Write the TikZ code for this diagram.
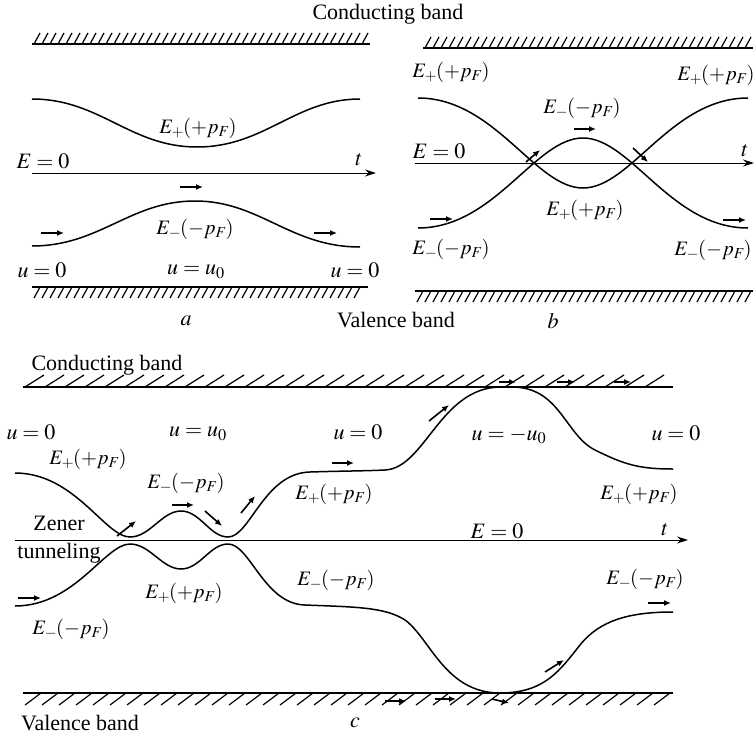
\documentclass[tikz,border=0pt]{standalone}
\usepackage{mathptmx}
\usepackage{fontspec}
\setmainfont{Liberation Serif}
\usetikzlibrary{arrows.meta}
\newcommand\EPlus{$E_{+}\mkern-1mu(+p_{F}\mkern-1mu)$}
\newcommand\EMin{$E_{-}\mkern-1mu(-p_{F}\mkern-1mu)$}
\tikzset{
  band/.style={line width=1.6pt},
  hat/.style={line width=1.2pt},
  curve/.style={line width=1.5pt},
  axis/.style={line width=1pt,-{Stealth[length=11pt,width=7pt]}},
  arr/.style={line width=1.6pt,-{Latex[length=7pt,width=6pt]}},
  lbl/.style={font=\fontsize{22}{26}\selectfont,inner sep=0pt,anchor=center},
  elbl/.style={font=\fontsize{20.5}{24}\selectfont,inner sep=0pt,anchor=center},
}
\begin{document}
\begin{tikzpicture}[x=1pt,y=-1pt]
\useasboundingbox (0,0) rectangle (755,736);

% ---------------- panel a ----------------
\draw[band] (32,44) -- (370,44);
\foreach \x in {34,42,...,362} \draw[hat] (\x,44) -- (\x+6,33);
\draw[band] (32,287) -- (368,287);
\foreach \x in {34,42,...,360} \draw[hat] (\x,298) -- (\x+6,287);

\draw[curve] (32,99) .. controls (100,99) and (130,147) .. (197,147)
             .. controls (265,147) and (295,99) .. (360,99);
\draw[curve] (32,246) .. controls (100,246) and (130,201) .. (195,201)
             .. controls (260,201) and (290,247) .. (360,247);
\draw[axis] (32,173) -- (376,173);

\draw[arr] (180,187) -- (203,187);
\draw[arr] (41,233) -- (64,233);
\draw[arr] (314,233) -- (337,233);

\node[lbl] (cbtop) at (388,14) {Conducting band};
\node[elbl] (aEp) at (198,128) {\EPlus};
\node[lbl] (aE0) at (43,161) {$E=0$};
\node[lbl] (at) at (359,160) {$t$};
\node[elbl] (aEm) at (195,229) {\EMin};
\node[lbl] (au1) at (42,270) {$u=0$};
\node[lbl] (au2) at (196,272) {$u=u_0$};
\node[lbl] (au3) at (355,270) {$u=0$};
\node[lbl] (alab) at (186,321) {$a$};
\node[lbl] (vbtop) at (396,320) {Valence band};

% ---------------- panel b ----------------
\draw[band] (423,48) -- (753,48);
\foreach \x in {425,433,...,745} \draw[hat] (\x,48) -- (\x+6,37);
\draw[band] (415,291) -- (753,291);
\foreach \x in {417,425,...,745} \draw[hat] (\x,302) -- (\x+6,291);

\draw[curve] (418,98) .. controls (495,98) and (535,188) .. (583,188)
             .. controls (631,188) and (671,98) .. (748,98);
\draw[curve] (418,228) .. controls (495,228) and (535,138) .. (583,138)
             .. controls (631,138) and (671,228) .. (748,228);
\draw[axis] (415,163) -- (754,163);

\draw[arr] (574,129) -- (596,129);
\draw[arr] (430,219) -- (453,219);
\draw[arr] (723,220) -- (746,220);
\draw[arr] (526,162) -- (540,150);
\draw[arr] (633,148) -- (648,162);

\node[elbl] (bEp1) at (451,72) {\EPlus};
\node[elbl] (bEp2) at (716,75) {\EPlus};
\node[elbl] (bEm1) at (582,108) {\EMin};
\node[lbl] (bE0) at (439,151) {$E=0$};
\node[lbl] (bt) at (745,151) {$t$};
\node[elbl] (bEp3) at (585,210) {\EPlus};
\node[elbl] (bEm2) at (451,249) {\EMin};
\node[elbl] (bEm3) at (713,250) {\EMin};
\node[lbl] (blab) at (553,321) {$b$};

% ---------------- panel c ----------------
\draw[band] (23,387) -- (673,387);
\foreach \x in {25,45,...,655} \draw[hat] (\x,387) -- (\x+19,375);
\draw[band] (23,693) -- (673,693);
\foreach \x in {25,42,...,660} \draw[hat] (\x,705) -- (\x+16,693);

\draw[curve] (15,473) .. controls (75,473) and (105,537) .. (130,537)
             .. controls (150,537) and (162,511) .. (181,511)
             .. controls (200,511) and (210,537) .. (228,537)
             .. controls (250,537) and (264,473) .. (310,472)
             .. controls (340,471) and (365,471) .. (385,470)
             .. controls (425,468) and (440,388) .. (500,387)
             -- (512,387)
             .. controls (560,387) and (565,435) .. (595,450)
             .. controls (625,465) and (640,469) .. (673,469);
\draw[curve] (15,606) .. controls (75,606) and (105,544) .. (130,544)
             .. controls (150,544) and (162,569) .. (181,569)
             .. controls (200,569) and (210,544) .. (228,544)
             .. controls (250,544) and (264,604) .. (305,605)
             .. controls (355,607) and (385,607) .. (405,620)
             .. controls (430,638) and (445,693) .. (500,693)
             .. controls (545,693) and (560,670) .. (580,645)
             .. controls (600,620) and (630,612) .. (673,612);
\draw[axis] (15,540) -- (688,540);

\draw[arr] (117,536) -- (136,521);
\draw[arr] (172,505) -- (194,505);
\draw[arr] (205,511) -- (222,526);
\draw[arr] (241,513) -- (255,496);
\draw[arr] (332,463) -- (354,463);
\draw[arr] (18,598) -- (41,598);
\draw[arr] (429,421) -- (449,405);
\draw[arr] (499,382) -- (516,382);
\draw[arr] (557,382) -- (575,382);
\draw[arr] (614,382) -- (631,382);
\draw[arr] (385,701) -- (406,701);
\draw[arr] (435,699) -- (456,699);
\draw[arr] (492,699) -- (509,703);
\draw[arr] (545,672) -- (564,660);
\draw[arr] (648,603) -- (671,603);

\node[lbl] (cbc) at (107,365) {Conducting band};
\node[lbl] (cu1) at (31,432) {$u=0$};
\node[lbl] (cu2) at (198,434) {$u=u_0$};
\node[lbl] (cu3) at (358,432) {$u=0$};
\node[lbl] (cu4) at (509,436) {$u=-u_0$};
\node[lbl] (cu5) at (676,433) {$u=0$};
\node[elbl] (cEp1) at (88,459) {\EPlus};
\node[elbl] (cEm1) at (186,483) {\EMin};
\node[elbl] (cEp2) at (334,494) {\EPlus};
\node[elbl] (cEp3) at (639,494) {\EPlus};
\node[lbl] (zen) at (59,523) {Zener};
\node[lbl] (tun) at (59,553) {tunneling};
\node[lbl] (cE0) at (497,531) {$E=0$};
\node[lbl] (ct) at (665,530) {$t$};
\node[elbl] (cEp4) at (184,593) {\EPlus};
\node[elbl] (cEm2) at (336,580) {\EMin};
\node[elbl] (cEm3) at (71,629) {\EMin};
\node[elbl] (cEm4) at (645,579) {\EMin};
\node[lbl] (vbc) at (80,723) {Valence band};
\node[lbl] (clab) at (355,723) {$c$};
\end{tikzpicture}
\end{document}
